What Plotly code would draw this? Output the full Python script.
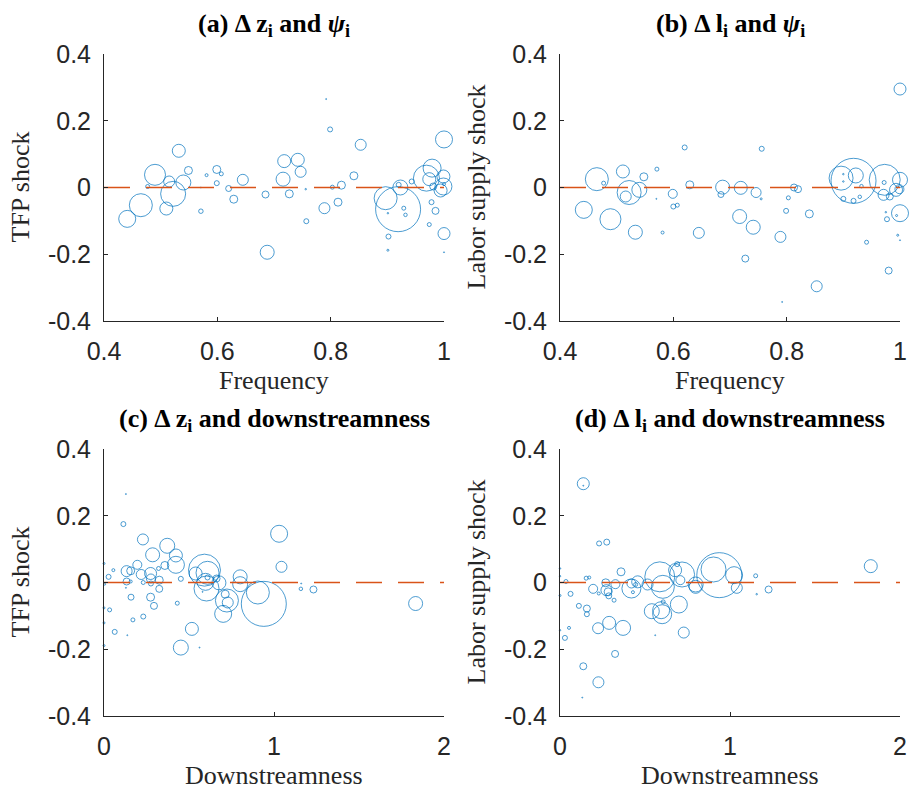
import plotly.graph_objects as go

# ---------------- data ----------------
# (a) frequency vs TFP shock
freq_a = [0.441, 0.465, 0.490, 0.477, 0.515, 0.522, 0.510, 0.532, 0.540, 0.549,
          0.571, 0.571, 0.581, 0.599, 0.607, 0.599, 0.620, 0.629, 0.645, 0.685,
          0.688, 0.718, 0.716, 0.727, 0.742, 0.747, 0.756, 0.757, 0.792, 0.799,
          0.789, 0.803, 0.819, 0.813, 0.841, 0.853, 0.897, 0.919, 0.923, 0.920,
          0.901, 0.902, 0.901, 0.929, 0.932, 0.943, 0.969, 0.979, 0.974, 0.978,
          0.974, 0.981, 0.985, 0.999, 0.999, 0.994, 1.000, 1.000, 1.000, 1.000]
tfp_a = [-0.094, -0.053, 0.038, 0.003, 0.018, -0.019, -0.063, 0.110, 0.015, 0.051,
         -0.071, 0.000, 0.037, 0.054, 0.041, 0.013, -0.003, -0.035, 0.023, -0.021,
         -0.194, 0.079, 0.025, -0.019, 0.083, 0.047, -0.005, -0.101, 0.265, 0.174,
         -0.062, 0.001, 0.007, -0.044, 0.035, 0.128, -0.032, -0.065, 0.000, 0.008,
         -0.077, -0.147, -0.188, -0.062, -0.082, 0.018, 0.028, 0.058, 0.025, -0.044,
         -0.111, 0.003, -0.070, 0.033, 0.003, -0.009, 0.144, -0.138, -0.194, 0.010]
weight_a = [17, 23, 21, 4, 11, 25, 13, 13, 15, 8,
            4.5, 1, 3, 8, 4, 5, 6, 8, 11, 7,
            14, 13, 14, 8, 13, 11, 1.5, 5, 1, 5,
            11, 4, 8, 8, 8, 11, 23, 45, 15, 5,
            1.5, 5, 2, 4, 3.5, 5, 26, 18, 13, 5,
            4, 7, 7, 13, 17, 13, 17, 12, 1, 3]

# (b) frequency vs labor supply shock
freq_b = [0.442, 0.465, 0.477, 0.489, 0.511, 0.522, 0.516, 0.540, 0.548, 0.533,
          0.571, 0.570, 0.581, 0.599, 0.600, 0.607, 0.620, 0.629, 0.645, 0.687,
          0.684, 0.719, 0.717, 0.741, 0.727, 0.746, 0.756, 0.755, 0.789, 0.792,
          0.799, 0.803, 0.813, 0.820, 0.840, 0.853, 0.896, 0.918, 0.922, 0.900,
          0.900, 0.900, 0.918, 0.929, 0.932, 0.941, 0.973, 0.972, 0.971, 0.982,
          1.000, 0.993, 0.999, 1.000, 1.000, 0.980, 0.977, 0.975, 0.996, 1.000,
          0.994]
lab_b = [-0.067, 0.025, 0.013, -0.095, 0.048, -0.015, -0.027, -0.007, 0.032, -0.134,
         0.055, -0.034, -0.135, -0.019, -0.057, -0.053, 0.120, 0.008, -0.136, 0.001,
         -0.021, -0.001, -0.087, -0.119, -0.213, -0.015, 0.116, -0.034, -0.148, -0.343,
         -0.070, -0.031, 0.000, -0.005, -0.079, -0.296, 0.028, 0.020, 0.036, 0.040,
         0.018, -0.034, -0.040, -0.028, 0.004, -0.164, 0.023, 0.015, -0.022, -0.027,
         0.023, -0.007, -0.005, -0.077, 0.295, -0.249, -0.095, -0.074, -0.143, -0.158,
         -0.084]
weight_b = [17, 23, 4, 21, 13, 24, 11, 15, 8, 14,
            4, 1, 3, 9, 5, 4, 5, 8, 11, 14,
            6, 13, 14, 14, 7, 10, 5, 2, 11, 1,
            5, 4, 7, 7, 8, 11, 24, 45, 15, 1.5,
            1.5, 5, 5, 3.5, 3.5, 4, 31, 4, 11, 7,
            15, 13, 9, 17, 12, 7, 5, 1.5, 2, 1,
            2]

# (c) downstreamness vs TFP shock
down_c = [0.129, 0.114, 0.229, 0.372, 0.286, 0.423, 0.423, 0.196, 0.133, 0.157,
          0.055, 0.000, 0.027, 0.004, 0.133, 0.157, 0.219, 0.274, 0.276, 0.276,
          0.231, 0.325, 0.325, 0.321, 0.358, 0.452, 0.129, 0.159, 0.274, 0.294,
          0.033, 0.000, 0.170, 0.231, 0.000, 0.063, 0.137, 0.000, 0.431, 0.517,
          0.452, 0.562, 0.539, 0.591, 0.609, 0.603, 0.597, 0.609, 0.580, 0.676,
          0.713, 0.723, 0.728, 0.701, 0.701, 0.801, 0.801, 0.905, 0.940, 1.030,
          1.044, 1.158, 1.232, 1.833, 1.160, 0.662]
tfp_c = [0.265, 0.175, 0.129, 0.110, 0.083, 0.081, 0.053, 0.053, 0.034, 0.035,
         0.037, 0.057, 0.017, -0.005, 0.003, 0.003, 0.024, 0.027, 0.012, -0.003,
         0.000, 0.007, -0.019, 0.042, 0.051, 0.011, -0.016, -0.044, -0.044, -0.070,
         -0.082, -0.076, -0.112, -0.102, -0.121, -0.148, -0.158, -0.189, -0.062, -0.139,
         -0.195, -0.195, 0.027, 0.037, 0.029, -0.018, 0.002, 0.015, -0.028, -0.001,
         -0.035, -0.054, -0.060, -0.094, -0.070, 0.017, -0.005, -0.030, -0.064, 0.146,
         0.047, -0.019, -0.021, -0.063, -0.003, 0.012]
weight_c = [1, 5, 11, 15, 14, 13, 17, 9, 11, 8,
            3, 2, 5, 2, 7, 3, 10, 12, 9, 5,
            4, 8, 7, 4, 8, 5, 1, 6, 8, 7,
            4, 2, 4, 5, 2, 5, 1, 2, 4, 13,
            15, 1, 13, 32, 23, 25, 17, 5, 1, 14,
            8, 23, 11, 17, 1, 14, 15, 23, 45, 17,
            11, 3.5, 7, 14, 1, 7]

# (d) downstreamness vs labor supply shock
down_d = [0.137, 0.137, 0.230, 0.275, 0.359, 0.000, 0.000, 0.035, 0.154, 0.172,
          0.195, 0.062, 0.000, 0.269, 0.326, 0.273, 0.283, 0.228, 0.287, 0.318,
          0.111, 0.158, 0.158, 0.053, 0.000, 0.029, 0.224, 0.289, 0.371, 0.324,
          0.137, 0.226, 0.131, 0.420, 0.420, 0.457, 0.429, 0.445, 0.515, 0.587,
          0.605, 0.540, 0.595, 0.601, 0.607, 0.560, 0.699, 0.677, 0.718, 0.689,
          0.708, 0.728, 0.798, 0.798, 0.903, 0.937, 1.024, 1.040, 1.151, 1.157,
          1.227, 1.828]
lab_d = [0.296, 0.290, 0.117, 0.121, 0.032, 0.042, 0.019, 0.003, 0.013, 0.015,
         -0.019, -0.034, -0.039, -0.001, -0.005, -0.023, -0.028, -0.033, -0.040, -0.053,
         -0.070, -0.078, -0.095, -0.136, -0.143, -0.166, -0.137, -0.121, -0.136, -0.214,
         -0.251, -0.299, -0.345, -0.018, -0.003, 0.002, -0.029, -0.006, -0.006, 0.017,
         -0.013, -0.086, -0.083, -0.095, -0.058, -0.158, -0.066, 0.037, 0.024, 0.055,
         0.007, -0.150, -0.006, -0.013, 0.039, 0.022, 0.022, -0.016, 0.020, -0.035,
         -0.021, 0.049]
weight_d = [12, 1, 5, 6, 8, 1.5, 1.5, 4, 4, 3,
            9, 5, 2, 8, 9, 11, 8, 3, 6, 4,
            5, 7, 5, 3, 1.5, 5, 11, 13, 15, 7,
            7, 11, 1, 19, 9, 12, 3, 4, 11, 30,
            23, 15, 17, 19, 4, 1, 17, 13, 25, 5,
            9, 11, 15, 13, 25, 45, 17, 11, 4, 1.5,
            7, 13]

x_range_freq = [0.4, 1.0]
x_range_down = [0.0, 2.0]
y_range = [-0.4, 0.4]
y_ticks = [-0.4, -0.2, 0, 0.2, 0.4]
y_ticktext = ["-0.4", "-0.2", "0", "0.2", "0.4"]
freq_ticks = [0.4, 0.6, 0.8, 1.0]
freq_ticktext = ["0.4", "0.6", "0.8", "1"]
down_ticks = [0, 1, 2]
down_ticktext = ["0", "1", "2"]
zero_level = 0

titles = ["<b>(a) \u0394 z<sub>i</sub> and <i>\u03c8</i><sub>i</sub></b>",
          "<b>(b) \u0394 l<sub>i</sub> and <i>\u03c8</i><sub>i</sub></b>",
          "<b>(c) \u0394 z<sub>i</sub> and downstreamness</b>",
          "<b>(d) \u0394 l<sub>i</sub> and downstreamness</b>"]
x_titles = ["Frequency", "Frequency", "Downstreamness", "Downstreamness"]
y_titles = ["TFP shock", "Labor supply shock", "TFP shock", "Labor supply shock"]

# ---------------- figure ----------------
W, H = 910, 790
BLUE = "#0072BD"
ORANGE = "#D95319"
AX = "#262626"
SANS = "Liberation Sans, Arial, Helvetica, sans-serif"
SERIF = "Liberation Serif, Times New Roman, serif"

# pixel boxes of plot areas: (left, right, top, bottom)
boxes = [(104, 444, 54, 321), (560, 900, 54, 321),
         (104, 444, 449, 716), (560, 900, 449, 716)]

panels = [
    (freq_a, tfp_a, weight_a, x_range_freq, freq_ticks, freq_ticktext),
    (freq_b, lab_b, weight_b, x_range_freq, freq_ticks, freq_ticktext),
    (down_c, tfp_c, weight_c, x_range_down, down_ticks, down_ticktext),
    (down_d, lab_d, weight_d, x_range_down, down_ticks, down_ticktext),
]

fig = go.Figure()
layout = dict(width=W, height=H, margin=dict(l=0, r=0, t=0, b=0, autoexpand=False),
              paper_bgcolor="white", plot_bgcolor="white", showlegend=False)
annotations = []

for i, (xs, ys, ws, xr, xt, xtt) in enumerate(panels):
    n = "" if i == 0 else str(i + 1)
    xa, ya = "x" + n, "y" + n
    l, r, t, b = boxes[i]
    fig.add_trace(go.Scatter(
        x=xs, y=ys, mode="markers", xaxis=xa, yaxis=ya, cliponaxis=False,
        marker=dict(symbol="circle-open", size=ws, sizemode="diameter",
                    color=BLUE, line=dict(color=BLUE, width=1)),
        hoverinfo="skip"))
    fig.add_trace(go.Scatter(
        x=xr, y=[zero_level, zero_level], mode="lines", xaxis=xa, yaxis=ya,
        line=dict(color=ORANGE, width=1.5, dash="26px,16px"), hoverinfo="skip"))
    common = dict(showline=True, linecolor=AX, linewidth=1, mirror=False,
                  showgrid=False, zeroline=False, ticks="inside", ticklen=4,
                  tickwidth=1, tickcolor=AX, automargin=False,
                  tickfont=dict(family=SANS, size=25, color=AX))
    layout["xaxis" + n] = dict(common, domain=[l / W, r / W], range=xr,
                               tickvals=xt, ticktext=xtt, anchor=ya,
                               ticklabelstandoff=8)
    layout["yaxis" + n] = dict(common, domain=[1 - b / H, 1 - t / H],
                               range=y_range, tickvals=y_ticks,
                               ticktext=y_ticktext, anchor=xa,
                               ticklabelstandoff=7)
    cx = (l + r) / 2
    annotations.append(dict(text=titles[i], x=cx / W, y=1 - (t - 29) / H,
                            xref="paper", yref="paper", showarrow=False,
                            xanchor="center", yanchor="middle",
                            font=dict(family=SERIF, size=26, color="black")))
    annotations.append(dict(text=x_titles[i], x=cx / W, y=1 - (b + 59) / H,
                            xref="paper", yref="paper", showarrow=False,
                            xanchor="center", yanchor="middle",
                            font=dict(family=SERIF, size=26, color=AX)))
    annotations.append(dict(text=y_titles[i], x=(l - 84) / W, y=1 - ((t + b) / 2) / H,
                            xref="paper", yref="paper", showarrow=False,
                            xanchor="center", yanchor="middle", textangle=-90,
                            font=dict(family=SERIF, size=26, color=AX)))

layout["annotations"] = annotations
fig.update_layout(**layout)
fig.write_html("out.html")
